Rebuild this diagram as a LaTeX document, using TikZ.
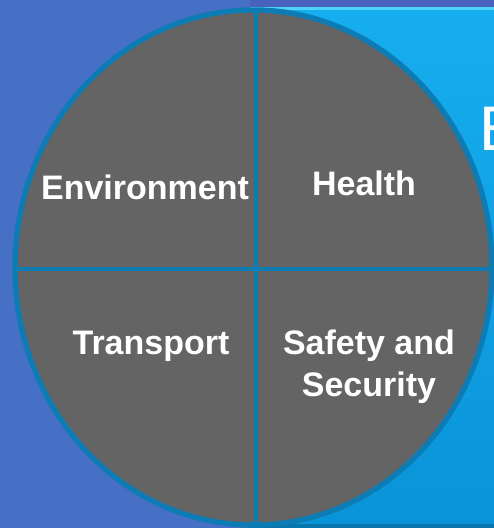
\documentclass[tikz,border=0pt]{standalone}
\usepackage{fontspec}
\setmainfont{Liberation Sans}
\usetikzlibrary{shapes.geometric}
\definecolor{bgblue}{HTML}{4570C6}
\definecolor{topband}{HTML}{4861BD}
\definecolor{cyantop}{HTML}{16AEEE}
\definecolor{cyanbot}{HTML}{0A93D8}
\definecolor{hilite}{HTML}{4FD2FA}
\definecolor{rimblue}{HTML}{0E7CB4}
\definecolor{pie}{HTML}{646464}
\tikzset{
  lbl/.style={text=white, font=\bfseries\fontsize{34}{42}\selectfont, align=center, inner sep=0pt},
  rim/.style={draw=rimblue, line width=5pt},
  divider/.style={draw=rimblue, line width=4pt}
}
\begin{document}
\begin{tikzpicture}[x=1pt,y=-1pt]
\useasboundingbox (0,0) rectangle (494,528);
\clip (0,0) rectangle (494,528);
% backgrounds
\fill[bgblue] (0,0) rectangle (494,528);
\shade[top color=cyantop, bottom color=cyanbot] (250,7) rectangle (494,528);
\fill[topband] (250,0) rectangle (494,7);
\fill[hilite] (250,7) rectangle (494,10);
\fill[cyanbot!80!black] (250,524) rectangle (494,528);
% partial title letter
\node[text=white, font=\fontsize{63}{70}\selectfont, anchor=base west, inner sep=0pt] (title) at (479,150) {E};
% pie
\node[ellipse, rim, fill=pie, minimum width=477pt, minimum height=515pt, inner sep=0pt] (pie) at (253.5,267.5) {};
\draw[divider] ([xshift=2.5pt]pie.north) -- ([xshift=2.5pt]pie.south);
\draw[divider] ([yshift=-1.5pt]pie.west) -- ([yshift=-1.5pt]pie.east);
\draw[rim] (pie.center) ellipse [x radius=238.5pt, y radius=257.5pt];
% labels
\node[lbl] (env) at (145,187) {Environment};
\node[lbl] (health) at (364,183) {Health};
\node[lbl] (trans) at (151,346) {Transport};
\node[lbl] (safety) at (369,367) {Safety and\\Security};
\end{tikzpicture}
\end{document}
